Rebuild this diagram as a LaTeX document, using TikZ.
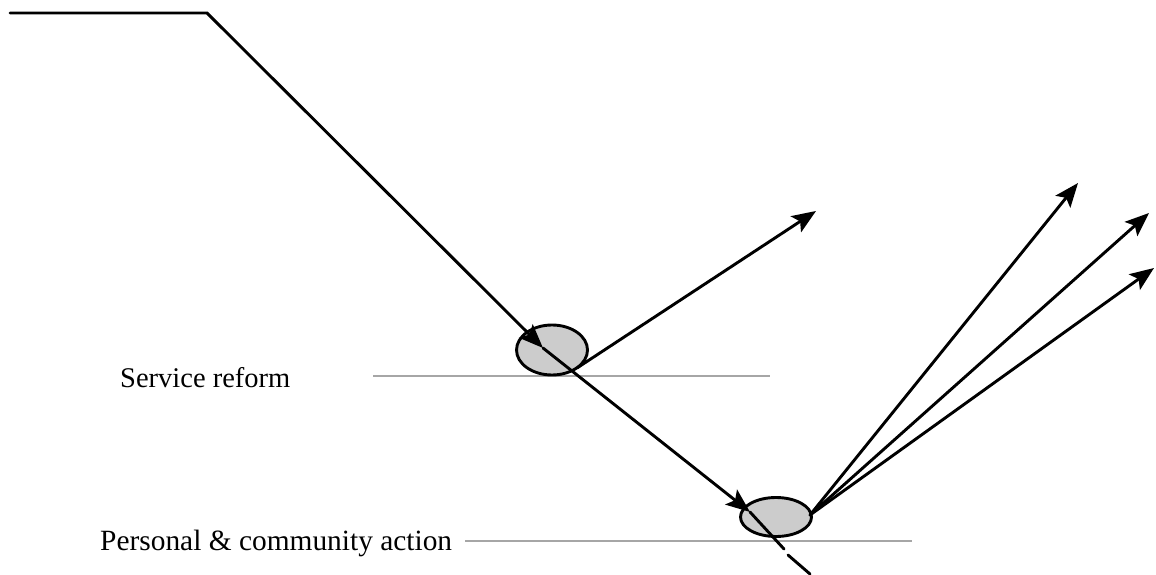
\documentclass[tikz,border=0pt]{standalone}
\usepackage{fontspec}
\setmainfont{Liberation Serif}
\usetikzlibrary{arrows.meta,shapes.geometric}
\begin{document}
\begin{tikzpicture}[x=1pt,y=-1pt,
  flow/.style={line width=2.9pt,line cap=round,line join=miter},
  arr/.style={flow,-{Stealth[length=24pt,width=19pt,inset=5pt]}},
  level/.style={draw=gray!70,line width=2.6pt},
  hub/.style={ellipse,draw=black,line width=2.9pt,fill=gray!40,inner sep=0pt},
  lbl/.style={font=\fontsize{28.5}{30}\selectfont,anchor=west,inner sep=0pt}]
\useasboundingbox (0,0) rectangle (1156,575);
% levels
\draw[level] (373,376) coordinate (l1a) -- (770,376) coordinate (l1b);
\draw[level] (465,541) coordinate (l2a) -- (912,541) coordinate (l2b);
\node[lbl] (sr) at (120,378) {Service reform};
\node[lbl,font=\fontsize{29.4}{31}\selectfont] (pca) at (100,543) {Personal \& community action};
% hubs
\node[hub,minimum width=71pt,minimum height=50pt] (h1) at (552,350) {};
\node[hub,minimum width=71pt,minimum height=39pt] (h2) at (776,517) {};
% coordinates
\coordinate (s0) at (10,13);
\coordinate (s1) at (207,13);
\coordinate (t1) at (543,348);
\coordinate (t2) at (750,512);
\coordinate (g1) at (784,549);
\coordinate (g2) at (788,555);
\coordinate (g3) at (810,574);
\coordinate (o1s) at (577,368);
\coordinate (o1) at (816,211);
\coordinate (o2s) at (810,515);
\coordinate (a1) at (1078,183);
\coordinate (a2) at (1149,213);
\coordinate (a3) at (1154,268);
% main path
\draw[arr] (s0) -- (s1) -- (t1);
\draw[arr] (t1) -- (t2);
\draw[flow] (t2) -- (g1);
\draw[flow] (g2) -- (g3);
% outgoing
\draw[arr] (o1s) -- (o1);
\draw[arr] (o2s) -- (a1);
\draw[arr] (o2s) -- (a2);
\draw[arr] (o2s) -- (a3);
\end{tikzpicture}
\end{document}
